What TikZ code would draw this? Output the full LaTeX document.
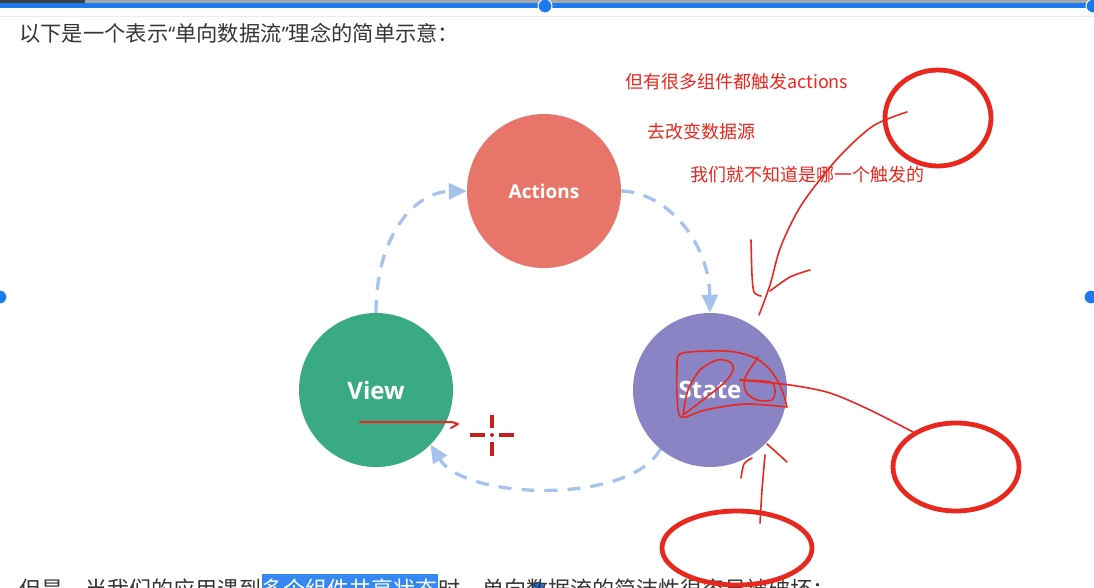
\documentclass[tikz,border=0pt]{standalone}
\usepackage{fontspec}
\setmainfont{Open Sans}
\newfontfamily\cjk{Noto Sans CJK SC}
\usepackage{tikz}
\usetikzlibrary{arrows.meta}
\definecolor{actred}{HTML}{E8756A}
\definecolor{viewgreen}{HTML}{3AAA84}
\definecolor{statepurple}{HTML}{8B84C4}
\definecolor{flowblue}{HTML}{A6C3EE}
\definecolor{pen}{HTML}{E8281F}
\definecolor{crossred}{HTML}{C3201E}
\definecolor{bar}{HTML}{1E7BEF}
\definecolor{body}{HTML}{353535}
\tikzset{
  bubble/.style={circle,minimum size=154pt,inner sep=0pt,text=white,font=\bfseries\fontsize{24}{26}\selectfont},
  flow/.style={flowblue,line width=3.3pt,dash pattern=on 13pt off 10pt,-{Triangle[length=18pt,width=16pt]}},
  note/.style={pen,anchor=west,inner sep=0pt,font=\cjk\fontsize{18}{20}\selectfont},
  para/.style={inner sep=0pt,text=body,font=\cjk\fontsize{22}{26}\selectfont},
  ink/.style={pen,line width=1.6pt,line cap=round,line join=round},
  ring/.style={pen,line width=4.8pt}
}
\newcommand{\handle}[2]{\fill[bar,draw=white,line width=1pt] (#1,#2) circle (7);}
\newcommand{\openq}{{\rmfamily\fontsize{20}{24}\selectfont “}}
\newcommand{\closeq}{{\rmfamily\fontsize{20}{24}\selectfont ”}}

\begin{document}
\begin{tikzpicture}[x=1pt,y=-1pt]
\useasboundingbox (0,0) rectangle (1094,587);
\clip (0,0) rectangle (1094,587);
\fill[white] (0,0) rectangle (1094,587);
\fill[gray!70] (0,0) rectangle (1094,2.5); \fill[black!75] (0,0) rectangle (85,2.5);
\fill[bar] (0,2.5) rectangle (1094,7.5); \draw[black!8,line width=1pt] (0,16) -- (1094,16);
\handle{545}{6} \handle{1093}{6} \handle{0}{297} \handle{1091}{297} \handle{538}{588}
\node[anchor=west,inner sep=0pt,text=body,font=\cjk\fontsize{21.3}{24}\selectfont] (intro) at (19,33) {以下是一个表示\openq 单向数据流\closeq 理念的简单示意：};
\node[para,anchor=base west] (tail1) at (19,597) {但是，当我们的应用遇到};
\node[para,anchor=base west,fill=bar!90,text=white,inner ysep=4pt] (tail2) at (tail1.base east) {多个组件共享状态};
\node[para,anchor=base west] (tail3) at (tail2.base east) {时，单向数据流的简洁性很容易被破坏：};
\node[bubble,fill=actred,font=\bfseries\fontsize{19}{21}\selectfont] (A) at (544,191) {Actions};
\node[bubble,fill=viewgreen] (V) at (376,390) {View};
\node[bubble,fill=statepurple] (S) at (710,390) {State};
\draw[flow] (V.north) .. controls (376,235) and (415,192) .. (A.west);
\draw[flow] (A.east) .. controls (665,192) and (709,240) .. (S.north);
\draw[flow] (S.-130) .. controls (630,505) and (465,500) .. (V.-45);
\node[note] (n1) at (625,82) {但有很多组件都触发actions};
\node[note] (n2) at (647,132) {去改变数据源};
\node[note] (n3) at (690,175) {我们就不知道是哪一个触发的};
\draw[ring] (938,118) ellipse[x radius=53,y radius=48];
\draw[ring] (956,467) ellipse[x radius=63,y radius=44];
\draw[ring] (737,548) ellipse[x radius=75,y radius=37];
\draw[ink] plot[smooth] coordinates {(907,112) (873,126) (838,158) (802,204) (781,246) (770,285) (759,315)};
\draw[ink] plot[smooth] coordinates {(751,240) (752,275) (754,292) (761,296)};
\draw[ink] plot[smooth] coordinates {(810,270) (790,277) (770,291)};
\draw[ink] plot[smooth] coordinates {(787,407) (745,404) (705,410) (681,417) (677,395) (677,370) (680,354) (710,351) (735,352) (757,359) (772,372) (782,390) (787,407)};
\draw[ink] plot[smooth] coordinates {(683,415) (688,390) (700,370) (717,360) (730,362) (733,370) (725,382) (703,400) (683,415)};
\draw[ink] plot[smooth] coordinates {(758,357) (745,378) (746,392) (757,400) (772,400) (775,390) (770,382) (740,380)};
\draw[ink] plot[smooth] coordinates {(740,380) (790,385) (830,393) (870,410) (913,432)};
\draw[ink] plot[smooth] coordinates {(760,523) (762,490) (765,455)};
\draw[ink] plot[smooth] coordinates {(767,444) (776,452) (787,462)};
\draw[ink] plot[smooth] coordinates {(741,478) (744,464) (752,458)};
\draw[ink,line width=2pt] (360,422) -- (452,422) -- (458,424) -- (451,428);
\draw[crossred,line width=4.5pt] (492,415) -- (492,428) (492,442) -- (492,456) (470,435) -- (485,435) (499,435) -- (514,435);
\fill[crossred] (492,435) circle (2);
\end{tikzpicture}
\end{document}
